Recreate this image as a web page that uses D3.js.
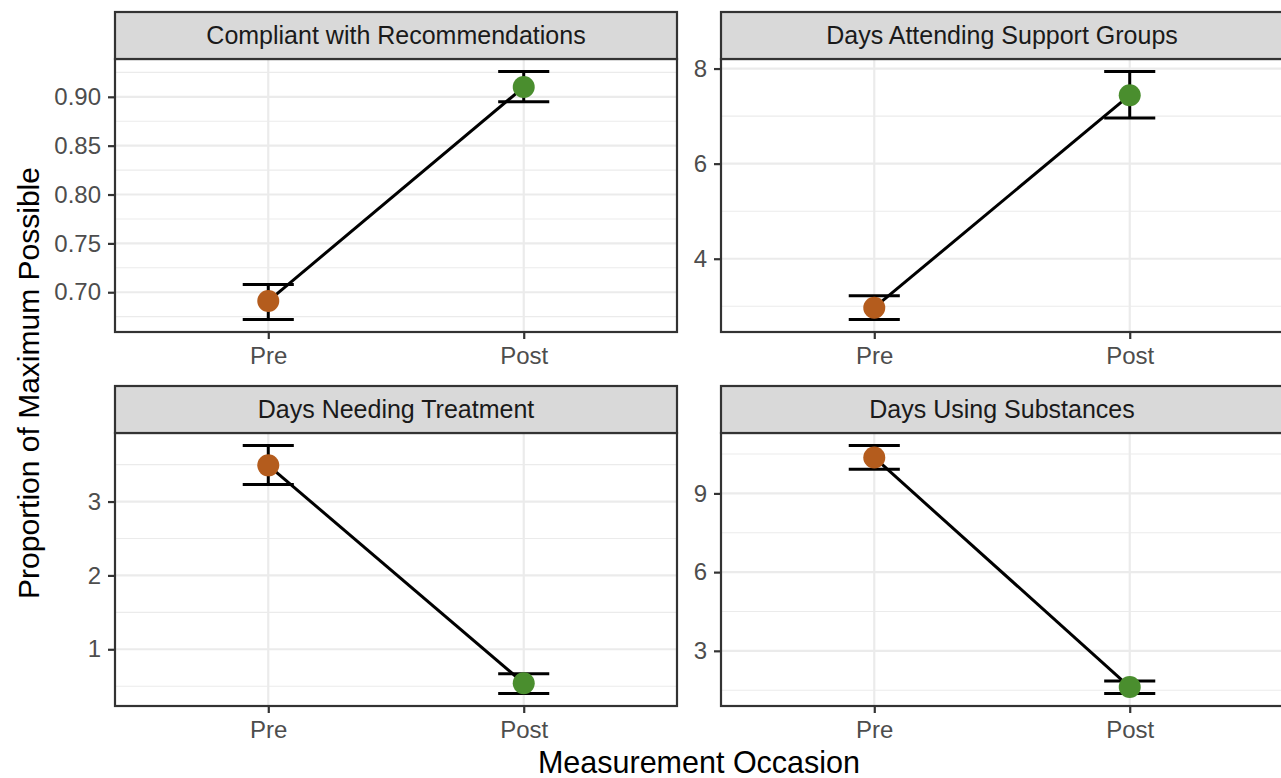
<!DOCTYPE html>
<html>
<head>
    <meta charset="utf-8" />
    <title>Pre vs Post</title>
    <style>
        body { margin: 0; background: #fff; }
        svg { display: block; font-family: "Liberation Sans", Arial, sans-serif; }
    </style>
</head>
<body>
    <div id="chart"></div>
    <script src="https://cdn.jsdelivr.net/npm/d3@7"></script>
    <script>
        // data
        var panels = ["Compliant with Recommendations", "Days Attending Support Groups",
                      "Days Needing Treatment", "Days Using Substances"];
        var occasions = ["Pre", "Post"];
        var means = [[0.691, 0.910], [2.97, 7.44], [3.49, 0.54], [10.37, 1.62]];
        var lower = [[0.672, 0.895], [2.72, 6.96], [3.23, 0.40], [9.92, 1.37]];
        var upper = [[0.708, 0.926], [3.22, 7.94], [3.76, 0.67], [10.83, 1.85]];
        var yTicks = [[0.70, 0.75, 0.80, 0.85, 0.90], [4, 6, 8], [1, 2, 3], [3, 6, 9]];
        var yFormats = [".2f", "d", "d", "d"];
        var colors = { Pre: "#b45c1d", Post: "#4a8e2e" };

        var width = 1281, height = 778;
        var cols = [[115, 677], [721, 1283]];
        var rows = [{ strip: 12, top: 59, bottom: 332 }, { strip: 386, top: 433, bottom: 706 }];

        var svg = d3.select("#chart").append("svg")
            .attr("width", width)
            .attr("height", height);

        panels.forEach(function (name, i) {
            var c = cols[i % 2], r = rows[Math.floor(i / 2)];
            var x = d3.scalePoint().domain(occasions).range(c).padding(0.6);
            var lo = d3.min(lower[i]), hi = d3.max(upper[i]);
            var pad = (hi - lo) * 0.05;
            var y = d3.scaleLinear().domain([lo - pad, hi + pad]).range([r.bottom, r.top]);

            var g = svg.append("g");

            // minor grid (midpoints between majors)
            var t = yTicks[i], step = t[1] - t[0];
            var minor = [t[0] - step / 2].concat(t.map(v => v + step / 2))
                .filter(v => v > y.domain()[0] && v < y.domain()[1]);
            g.selectAll(".minor").data(minor).join("line")
                .attr("x1", c[0]).attr("x2", c[1])
                .attr("y1", d => y(d)).attr("y2", d => y(d))
                .attr("stroke", "#ebebeb").attr("stroke-width", 1.1);
            g.selectAll(".major").data(t).join("line")
                .attr("x1", c[0]).attr("x2", c[1])
                .attr("y1", d => y(d)).attr("y2", d => y(d))
                .attr("stroke", "#ebebeb").attr("stroke-width", 2.2);
            g.selectAll(".vmajor").data(occasions).join("line")
                .attr("x1", d => x(d)).attr("x2", d => x(d))
                .attr("y1", r.top).attr("y2", r.bottom)
                .attr("stroke", "#ebebeb").attr("stroke-width", 2.2);

            // axes
            var yAxis = g.append("g")
                .attr("transform", `translate(${c[0]},0)`)
                .call(d3.axisLeft(y).tickValues(t).tickFormat(d3.format(yFormats[i])).tickSize(7).tickPadding(7));
            var xAxis = g.append("g")
                .attr("transform", `translate(0,${r.bottom})`)
                .call(d3.axisBottom(x).tickSize(7).tickPadding(8));
            [yAxis, xAxis].forEach(function (a) {
                a.select(".domain").remove();
                a.selectAll(".tick line").attr("stroke", "#333333").attr("stroke-width", 2.2);
                a.selectAll(".tick text").attr("fill", "#4d4d4d")
                    .attr("font-size", 24).attr("font-family", "Liberation Sans, Arial, sans-serif");
            });

            // connecting line
            var pts = occasions.map((o, j) => [x(o), y(means[i][j])]);
            g.append("path")
                .attr("d", d3.line()(pts))
                .attr("fill", "none").attr("stroke", "#000").attr("stroke-width", 3);

            // error bars
            var w = x.step() * 0.2;
            occasions.forEach(function (o, j) {
                var cx = x(o);
                var eb = g.append("g").attr("stroke", "#000").attr("stroke-width", 3);
                eb.append("line").attr("x1", cx).attr("x2", cx).attr("y1", y(lower[i][j])).attr("y2", y(upper[i][j]));
                eb.append("line").attr("x1", cx - w / 2).attr("x2", cx + w / 2).attr("y1", y(lower[i][j])).attr("y2", y(lower[i][j]));
                eb.append("line").attr("x1", cx - w / 2).attr("x2", cx + w / 2).attr("y1", y(upper[i][j])).attr("y2", y(upper[i][j]));
            });

            g.selectAll("circle").data(occasions).join("circle")
                .attr("cx", d => x(d))
                .attr("cy", (d, j) => y(means[i][j]))
                .attr("r", 11)
                .attr("fill", d => colors[d]);

            // panel border
            g.append("rect")
                .attr("x", c[0]).attr("y", r.top)
                .attr("width", c[1] - c[0]).attr("height", r.bottom - r.top)
                .attr("fill", "none").attr("stroke", "#333333").attr("stroke-width", 2.2);

            // strip
            g.append("rect")
                .attr("x", c[0]).attr("y", r.strip)
                .attr("width", c[1] - c[0]).attr("height", r.top - r.strip)
                .attr("fill", "#d9d9d9").attr("stroke", "#333333").attr("stroke-width", 2.2);
            g.append("text")
                .attr("x", (c[0] + c[1]) / 2)
                .attr("y", (r.strip + r.top) / 2)
                .attr("dy", "0.35em")
                .attr("text-anchor", "middle")
                .attr("font-size", 25)
                .attr("fill", "#1a1a1a")
                .text(name);
        });

        svg.append("text")
            .attr("x", 699).attr("y", 773)
            .attr("text-anchor", "middle")
            .attr("font-size", 30.5)
            .text("Measurement Occasion");

        svg.append("text")
            .attr("transform", "translate(39,383) rotate(-90)")
            .attr("text-anchor", "middle")
            .attr("font-size", 30)
            .text("Proportion of Maximum Possible");
    </script>
</body>
</html>
